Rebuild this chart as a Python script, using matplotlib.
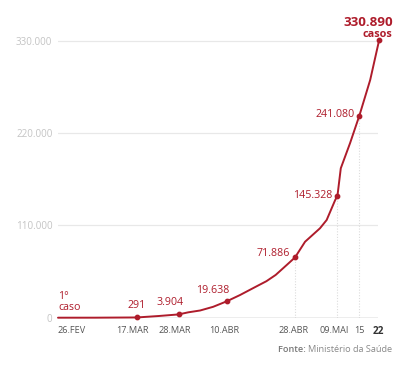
import matplotlib.pyplot as plt

plt.rcParams['font.family'] = ['Open Sans', 'DejaVu Sans']

# position along the time axis (days since 26 Feb) and cumulative cases
days = [0, 10, 21.2, 27, 32.4, 35, 38.2, 41.7, 45.4, 48.9, 53.4, 56, 58.5, 61.5, 63.7,
        66.4, 70.4, 72.2, 74.5, 75.1, 76.0, 78.5, 81.0, 83.9, 86.3]
cases = [1, 25, 291, 2000, 3904, 6400, 8600, 13000, 19638, 27000, 37500, 43500, 51000, 63000, 71886,
         90600, 106600, 116500, 140400, 145328, 178200, 208300, 241080, 283500, 330890]

# indices of the highlighted points
marked = [2, 4, 8, 14, 19, 22, 24]
dropped = [14, 19, 22, 24]

tick_days = [0, 19.9, 31.4, 44.8, 63.2, 74.2, 80.9, 86]
tick_labels = ['26.FEV', '17.MAR', '28.MAR', '10.ABR', '28.ABR', '09.MAI', '15', '22']
y_ticks = [0, 110000, 220000, 330000]

red = '#ae1c2b'

def fmt(v):
    return f'{v:,}'.replace(',', '.')

fig = plt.figure(figsize=(4.08, 3.68), dpi=100)
ax = fig.add_axes([58 / 408, 1 - 317.7 / 368, 320 / 408, 285.1 / 368])

ax.set_xlim(0, 86)
ax.set_ylim(0, 340000)

for y in y_ticks[1:]:
    ax.axhline(y, color='#e8e8e8', lw=0.9, zorder=0)
ax.axhline(0, color='#a8a8a8', lw=1.0, zorder=1)

for i in dropped:
    ax.vlines(days[i], 0, cases[i], colors='#dcdcdc', lw=0.8, linestyles=(0, (1, 1.5)), zorder=0)

ax.plot(days, cases, color=red, lw=1.4, zorder=3, clip_on=False, solid_capstyle='round',
        solid_joinstyle='round')
ax.scatter([days[i] for i in marked], [cases[i] for i in marked], s=10, color=red,
           zorder=4, clip_on=False)

# point labels
offsets = {2: (0, 5, 'center', 'bottom'),
           4: (-6, 4.5, 'center', 'bottom'),
           8: (-10, 3.5, 'center', 'bottom'),
           14: (-3.5, 3, 'right', 'center'),
           19: (-3.3, 0.5, 'right', 'center'),
           22: (-3.1, 0.5, 'right', 'center')}
for i, (dx, dy, ha, va) in offsets.items():
    ax.annotate(fmt(cases[i]), (days[i], cases[i]), xytext=(dx, dy), textcoords='offset points',
                ha=ha, va=va, color=red, fontsize=7.7, annotation_clip=False)

ax.annotate(fmt(cases[24]), (days[24], cases[24]), xytext=(9.8, 12.6), textcoords='offset points',
            ha='right', va='center', color=red, fontsize=9.6, fontweight='bold', annotation_clip=False)
ax.annotate('casos', (days[24], cases[24]), xytext=(9.4, 4.2), textcoords='offset points',
            ha='right', va='center', color=red, fontsize=7.8, fontweight='bold', annotation_clip=False)
ax.annotate('1°\ncaso', (days[0], cases[0]), xytext=(0, 11.3), textcoords='offset points',
            ha='left', va='center', color=red, fontsize=7.7, linespacing=0.95, annotation_clip=False)

ax.set_yticks(y_ticks)
ax.set_yticklabels([fmt(v) for v in y_ticks], color='#c4c4c4', fontsize=7.1)
ax.set_xticks(tick_days)
ax.set_xticklabels(tick_labels, color='#555555', fontsize=6.6)
xl = ax.get_xticklabels()
xl[0].set_ha('left')
xl[-1].set_fontweight('bold')
xl[-1].set_color('#333333')
xl[-1].set_fontsize(7.2)
ax.tick_params(axis='both', length=0)
ax.tick_params(axis='y', pad=4)
ax.tick_params(axis='x', pad=6)
for s in ax.spines.values():
    s.set_visible(False)

src = fig.text(392 / 408, 1 - 349.3 / 368, 'Ministério da Saúde', color='#888888', fontsize=6.6,
               ha='right', va='center')
fig.canvas.draw()
bb = src.get_window_extent()
fig.text(bb.x0 / 408, 1 - 349.3 / 368, 'Fonte: ', color='#777777', fontsize=6.6,
         fontweight='semibold', ha='right', va='center')

fig.savefig('out.png', dpi=100)
